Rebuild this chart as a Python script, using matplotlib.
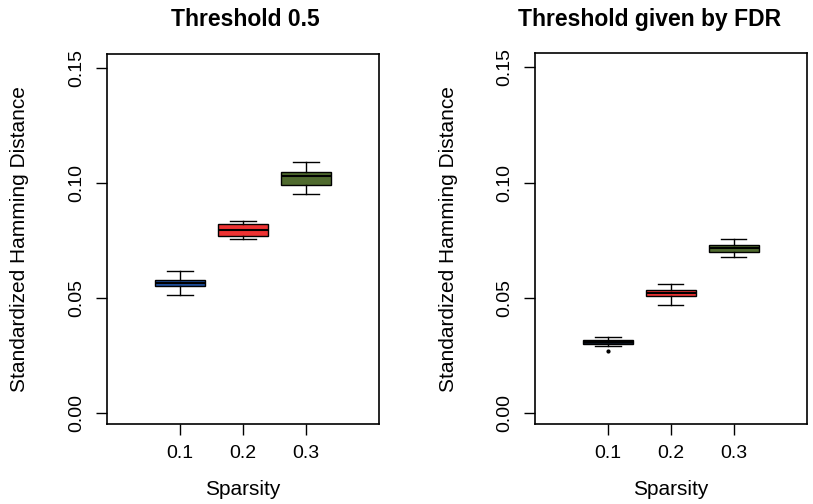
import matplotlib
matplotlib.use("Agg")
import matplotlib.pyplot as plt

plt.rcParams['font.family'] = ['Liberation Sans', 'DejaVu Sans']

# sparsity levels shown on the x axis
sparsity = ['0.1', '0.2', '0.3']
box_colors = ['#1f4e9c', '#ee3333', '#4f6a2e']

# panel 1: threshold 0.5
t05_low = [0.0514, 0.0758, 0.0950]
t05_q1 = [0.0552, 0.0770, 0.0990]
t05_med = [0.0565, 0.0796, 0.1030]
t05_q3 = [0.0580, 0.0823, 0.1048]
t05_high = [0.0617, 0.0836, 0.1093]
t05_out = [[], [], []]

# panel 2: threshold given by FDR
fdr_low = [0.0290, 0.0471, 0.0675]
fdr_q1 = [0.0301, 0.0507, 0.0700]
fdr_med = [0.0310, 0.0522, 0.0716]
fdr_q3 = [0.0319, 0.0536, 0.0729]
fdr_high = [0.0330, 0.0561, 0.0753]
fdr_out = [[0.0271], [], []]
fdr_colors = ['#0c1424', '#ee3333', '#4f6a2e']

yticks = [0.00, 0.05, 0.10, 0.15]


def make_stats(low, q1, med, q3, high, out):
    stats = []
    for i in range(len(med)):
        stats.append(dict(whislo=low[i], q1=q1[i], med=med[i], q3=q3[i],
                          whishi=high[i], fliers=out[i]))
    return stats


def draw_panel(ax, stats, colors, title, title_x):
    bp = ax.bxp(stats, positions=[1, 2, 3], widths=0.8, patch_artist=True,
                showfliers=True,
                boxprops=dict(edgecolor='black', linewidth=1.0),
                medianprops=dict(color='black', linewidth=1.5),
                whiskerprops=dict(color='black', linewidth=1.0),
                capprops=dict(color='black', linewidth=1.0),
                capwidths=0.4,
                flierprops=dict(marker='o', markersize=2, markerfacecolor='black',
                                markeredgecolor='black'))
    for patch, c in zip(bp['boxes'], colors):
        patch.set_facecolor(c)
    ax.set_xlim(-0.16, 4.16)
    ax.set_ylim(-0.0047, 0.1560)
    ax.set_xticks([1, 2, 3])
    ax.set_xticklabels(sparsity, fontsize=14)
    ax.set_yticks(yticks)
    ax.set_yticklabels(['%.2f' % v for v in yticks], fontsize=14,
                       rotation=90, va='center')
    ax.tick_params(axis='y', length=8, width=1, pad=8)
    ax.tick_params(axis='x', length=8, width=1, pad=7)
    for s in ax.spines.values():
        s.set_linewidth(1.2)
    ax.set_xlabel('Sparsity', fontsize=15, va='center')
    ax.xaxis.set_label_coords(0.5, -0.176)
    ax.set_ylabel('Standardized Hamming Distance', fontsize=15, va='center')
    ax.yaxis.set_label_coords(-0.32, 0.5)
    ax.set_title(title, fontsize=16.5, fontweight='bold', x=title_x, y=1.0, pad=20)


fig = plt.figure(figsize=(8.13, 5.04), dpi=100)
ax1 = fig.add_axes([0.1316, 0.1587, 0.3346, 0.7342])
ax2 = fig.add_axes([0.6581, 0.1587, 0.3342, 0.7355])

draw_panel(ax1, make_stats(t05_low, t05_q1, t05_med, t05_q3, t05_high, t05_out),
           box_colors, 'Threshold 0.5', 0.51)
draw_panel(ax2, make_stats(fdr_low, fdr_q1, fdr_med, fdr_q3, fdr_high, fdr_out),
           fdr_colors, 'Threshold given by FDR', 0.423)

fig.savefig('out.png', dpi=100)
